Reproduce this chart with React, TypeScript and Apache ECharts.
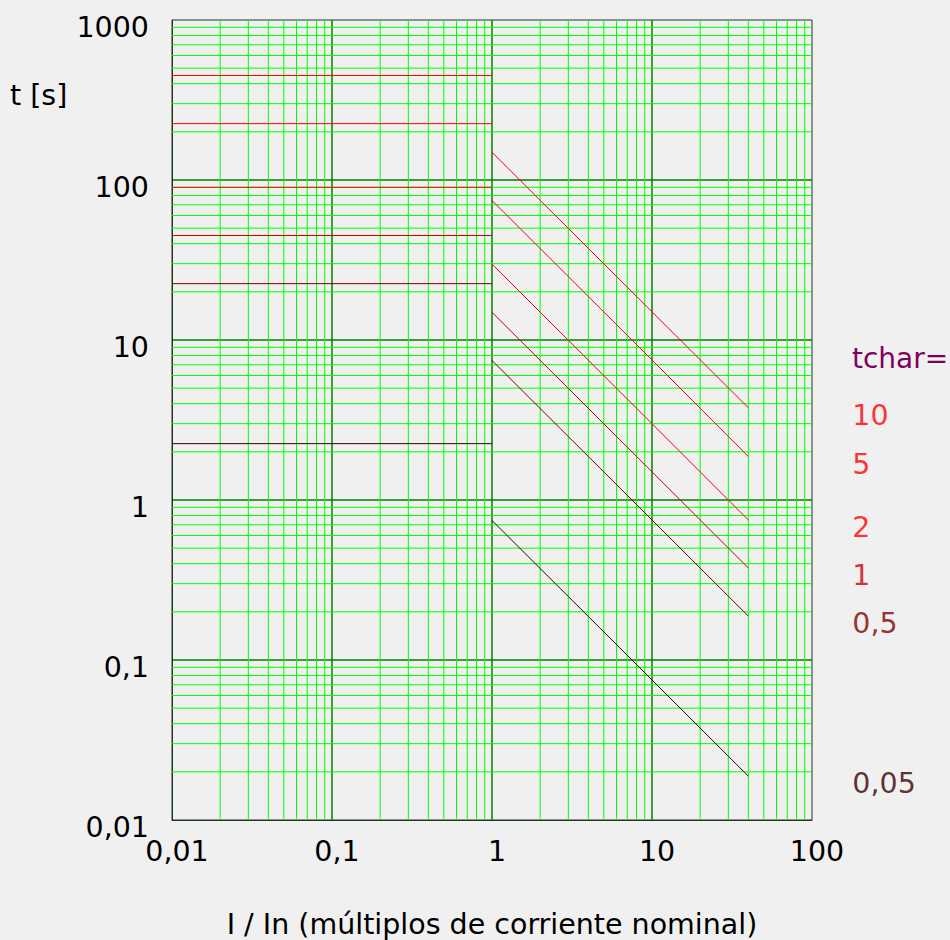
import React, { useEffect, useRef } from 'react';
import * as echarts from 'echarts';

// ---- data ----
const xTickLabels = ['0,01', '0,1', '1', '10', '100'];
const yTickLabels = ['0,01', '0,1', '1', '10', '100', '1000'];
const tcharLabels = ['10', '5', '2', '1', '0,5', '0,05'];
const flatCurrent = [0.01, 1];
const flatTimes = [450, 225, 90, 45, 22.5, 2.25];
const inverseCurrent = [1, 10, 40];
const inverseTimesAt1 = [149, 74.5, 29.8, 14.9, 7.45, 0.745];
const inverseTimesAt10 = [15, 7.5, 3.0, 1.5, 0.75, 0.075];
const inverseTimesAt40 = [3.77, 1.87, 0.75, 0.376, 0.188, 0.0188];
const minorMultipliers = [2, 3, 4, 5, 6, 7, 8, 9];
const xDecades = [0.01, 0.1, 1, 10];
const yDecades = [0.01, 0.1, 1, 10, 100];

// ---- styles ----
const curveColors = ['#ff0000', '#ff0000', '#ff0000', '#cc0000', '#800000', '#330000'];
const FONT = 'DejaVu Sans';
const FS = 28.5;
const MINOR = '#00ff00';
const MAJOR = '#008000';

const minorValues = (decades: number[]) =>
  decades.flatMap((d) => minorMultipliers.map((m) => +(d * m).toPrecision(6)));

const logLabel = (labels: string[], minExp: number) => (v: number) => {
  const i = Math.round(Math.log10(v)) - minExp;
  return labels[i] ?? '';
};

export default function App() {
  const ref = useRef<HTMLDivElement>(null);
  useEffect(() => {
    document.body.style.margin = '0';
    document.body.style.background = '#f0f0f0';
    if (!ref.current) return;
    const chart = echarts.init(ref.current, null, { renderer: 'svg' });

    const verticalMinor: any = {
      type: 'custom',
      name: 'minorX',
      silent: true,
      z: 1,
      clip: false,
      encode: { x: 0, y: 1 },
      data: minorValues(xDecades).map((v) => [v, 1]),
      renderItem: (params: any, api: any) => {
        const cs = params.coordSys;
        const x = api.coord([api.value(0), api.value(1)])[0];
        return {
          type: 'line',
          silent: true,
          shape: { x1: x, y1: cs.y, x2: x, y2: cs.y + cs.height },
          style: { stroke: MINOR, lineWidth: 1 },
        };
      },
    };
    const horizontalMinor: any = {
      type: 'custom',
      name: 'minorY',
      silent: true,
      z: 1,
      clip: false,
      encode: { x: 0, y: 1 },
      data: minorValues(yDecades).map((v) => [1, v]),
      renderItem: (params: any, api: any) => {
        const cs = params.coordSys;
        const y = api.coord([api.value(0), api.value(1)])[1];
        return {
          type: 'line',
          silent: true,
          shape: { x1: cs.x, y1: y, x2: cs.x + cs.width, y2: y },
          style: { stroke: MINOR, lineWidth: 1 },
        };
      },
    };

    const curveSeries: any[] = [];
    tcharLabels.forEach((lab, i) => {
      curveSeries.push({
        type: 'line',
        name: 'flat ' + lab,
        data: flatCurrent.map((x) => [x, flatTimes[i]]),
        symbol: 'none',
        silent: true,
        z: 3,
        lineStyle: { color: curveColors[i], width: 1 },
      });
      curveSeries.push({
        type: 'line',
        name: 'inverse ' + lab,
        data: [
          [inverseCurrent[0], inverseTimesAt1[i]],
          [inverseCurrent[1], inverseTimesAt10[i]],
          [inverseCurrent[2], inverseTimesAt40[i]],
        ],
        symbol: 'none',
        silent: true,
        z: 3,
        lineStyle: { color: curveColors[i], width: 1 },
      });
    });

    const labelSeries: any = {
      type: 'scatter',
      name: 'labels',
      symbolSize: 1,
      silent: true,
      z: 4,
      itemStyle: { color: 'rgba(0,0,0,0)' },
      label: {
        show: true,
        position: 'right',
        distance: 0,
        offset: [103.5, 7.5],
        fontSize: FS,
        fontFamily: FONT,
      },
      data: tcharLabels.map((lab, i) => ({
        value: [inverseCurrent[2], inverseTimesAt40[i]],
        label: { formatter: lab, color: curveColors[i] },
      })),
    };

    const option: any = {
      animation: false,
      backgroundColor: '#f0f0f0',
      textStyle: { fontFamily: FONT },
      grid: {
        show: true,
        left: 172,
        top: 20,
        width: 640,
        height: 800,
        borderColor: '#1e3a1e',
        borderWidth: 1,
        backgroundColor: 'transparent',
        containLabel: false,
        outerBoundsMode: 'none',
      },
      xAxis: {
        type: 'log',
        logBase: 10,
        min: 0.01,
        max: 100,
        name: 'I / In (múltiplos de corriente nominal)',
        nameLocation: 'middle',
        nameGap: 90,
        nameTextStyle: { fontSize: FS, lineHeight: 28, color: '#000', fontFamily: FONT },
        axisLine: { show: true, lineStyle: { color: '#1e3a1e', width: 1 } },
        axisTick: { show: false },
        axisLabel: {
          show: true,
          formatter: logLabel(xTickLabels, -2),
          fontSize: FS,
          lineHeight: 28,
          color: '#000',
          fontFamily: FONT,
          margin: 17.5,
          padding: [0, 0, 0, 10],
          showMinLabel: true,
          showMaxLabel: true,
          hideOverlap: false,
        },
        splitLine: {
          show: true,
          showMinLine: false,
          showMaxLine: false,
          lineStyle: { color: MAJOR, width: 1.5 },
        },
      },
      yAxis: {
        type: 'log',
        logBase: 10,
        min: 0.01,
        max: 1000,
        axisLine: { show: true, lineStyle: { color: '#1e3a1e', width: 1 } },
        axisTick: { show: false },
        axisLabel: {
          show: true,
          formatter: logLabel(yTickLabels, -2),
          fontSize: FS,
          lineHeight: 15,
          verticalAlign: 'top',
          color: '#000',
          fontFamily: FONT,
          margin: 23,
          showMinLabel: true,
          showMaxLabel: true,
          hideOverlap: false,
        },
        splitLine: {
          show: true,
          showMinLine: false,
          showMaxLine: false,
          lineStyle: { color: MAJOR, width: 1.5 },
        },
      },
      graphic: [
        {
          type: 'text',
          x: 10,
          y: 95,
          silent: true,
          style: {
            text: 't [s]',
            font: `${FS}px "${FONT}"`,
            fill: '#000',
            verticalAlign: 'middle',
            align: 'left',
          },
        },
        {
          type: 'text',
          x: 852,
          y: 358,
          silent: true,
          style: {
            text: 'tchar=',
            font: `28px "${FONT}"`,
            fill: '#800060',
            verticalAlign: 'middle',
            align: 'left',
          },
        },
      ],
      series: [verticalMinor, horizontalMinor, ...curveSeries, labelSeries],
    };

    chart.setOption(option);
    return () => chart.dispose();
  }, []);

  return <div ref={ref} style={{ width: 950, height: 940 }} />;
}
